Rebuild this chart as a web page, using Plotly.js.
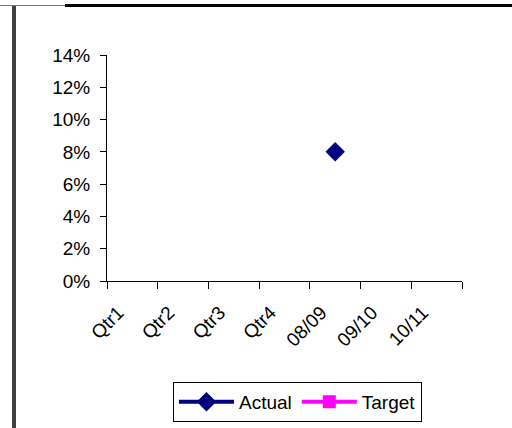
<!DOCTYPE html>
<html>
<head>
<meta charset="utf-8">
<script src="https://cdn.plot.ly/plotly-3.0.1.min.js"></script>
<style>
html,body{margin:0;padding:0;background:#fff;}
#wrap{position:relative;width:512px;height:428px;overflow:hidden;}
#chart{position:absolute;left:0;top:0;width:512px;height:428px;}
.deco{position:absolute;pointer-events:none;}
</style>
</head>
<body>
<div id="wrap">
<div id="chart"></div>
<div class="deco" style="left:0;top:5px;width:65px;height:1px;background:#777;"></div>
<div class="deco" style="left:65px;top:4px;width:447px;height:3px;background:#000;"></div>
<div class="deco" style="left:12px;top:6px;width:4px;height:422px;background:#404040;"></div>
</div>
<script>
var categories = ["Qtr1", "Qtr2", "Qtr3", "Qtr4", "08/09", "09/10", "10/11"];
var actualValues = [null, null, null, null, 0.08, null, null];
var targetValues = [null, null, null, null, null, null, null];
var yTickValues = [0, 0.02, 0.04, 0.06, 0.08, 0.10, 0.12, 0.14];

var font = {family: "Liberation Sans, Arial, sans-serif", size: 19, color: "#000"};

var traces = [
  {
    x: categories, y: actualValues, name: "Actual", type: "scatter", mode: "lines+markers",
    line: {color: "#000080", width: 4},
    marker: {symbol: "diamond", size: 15, color: "#000080"},
    cliponaxis: false
  },
  {
    x: categories, y: targetValues, name: "Target", type: "scatter", mode: "lines+markers",
    line: {color: "#FF00FF", width: 4},
    marker: {symbol: "square", size: 13, color: "#FF00FF"},
    cliponaxis: false
  }
];

var layout = {
  width: 512, height: 428,
  margin: {l: 107, r: 50, t: 55, b: 147, pad: 0},
  paper_bgcolor: "#fff", plot_bgcolor: "#fff",
  font: font,
  showlegend: true,
  legend: {
    orientation: "h",
    xref: "container", yref: "container",
    x: 0.581, xanchor: "center",
    y: 0.108, yanchor: "top",
    bordercolor: "#000", borderwidth: 1,
    bgcolor: "#fff",
    font: font,
    itemwidth: 55,
    tracegroupgap: 0,
    traceorder: "normal"
  },
  xaxis: {
    type: "category",
    categoryorder: "array", categoryarray: categories,
    range: [-0.5, 6.5],
    tickson: "boundaries",
    ticks: "outside", ticklen: 7, tickwidth: 1, tickcolor: "#000",
    showline: true, linecolor: "#000", linewidth: 1,
    showgrid: false, zeroline: false,
    tickangle: -45,
    ticklabelstandoff: 12,
    ticklabelshift: -14,
    tickfont: font,
    fixedrange: true
  },
  yaxis: {
    range: [0, 0.14],
    tickvals: yTickValues,
    tickformat: ".0%",
    ticks: "outside", ticklen: 6, tickwidth: 1, tickcolor: "#000",
    showline: true, linecolor: "#000", linewidth: 1,
    showgrid: false, zeroline: false,
    ticklabelstandoff: 6,
    tickfont: font,
    fixedrange: true
  }
};

Plotly.newPlot("chart", traces, layout, {displayModeBar: false, staticPlot: true});
</script>
</body>
</html>
